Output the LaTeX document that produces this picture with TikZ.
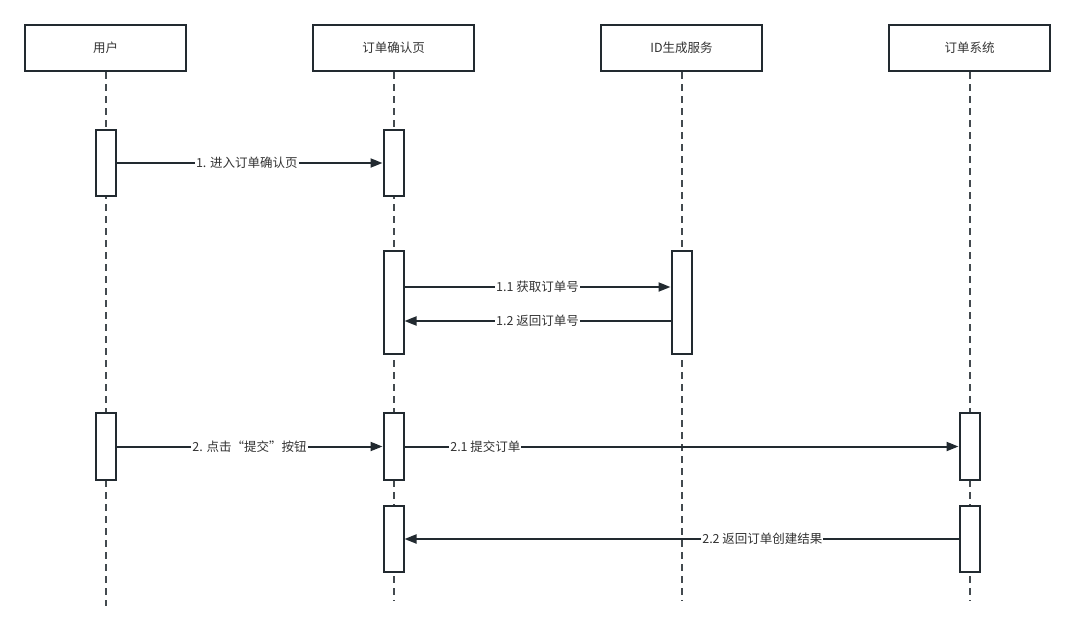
\documentclass[tikz,border=0pt]{standalone}
\usepackage{fontspec}
\setmainfont{Noto Sans CJK SC}
\usetikzlibrary{arrows.meta,positioning}
\definecolor{ink}{HTML}{222A30}
\definecolor{txt}{HTML}{333333}

\begin{document}
\begin{tikzpicture}[
  x=1pt,y=-1pt,
  actor/.style={draw=ink,line width=2pt,fill=white,minimum width=161pt,minimum height=46pt,inner sep=0pt,font=\fontsize{12.5}{14}\selectfont,text=txt},
  act/.style={draw=ink,line width=2pt,fill=white,minimum width=20pt,inner sep=0pt},
  life/.style={draw=ink!85,line width=2pt,dash pattern=on 7pt off 5pt},
  msg/.style={-{Triangle[length=12pt,width=9pt]},line width=2pt,draw=ink},
  lbl/.style={fill=white,inner sep=1pt,font=\fontsize{12.5}{14}\selectfont,text=txt}
]
\useasboundingbox (0,0) rectangle (1075,632);
% actors
\node[actor] (user) at (105.5,48) {用户};
\node[actor] (page) at (393.5,48) {订单确认页};
\node[actor] (idsvc) at (681.5,48) {ID生成服务};
\node[actor] (order) at (969.5,48) {订单系统};
% lifelines
\coordinate (userend) at (105.5,606);
\coordinate (pageend) at (393.5,601);
\coordinate (idsvcend) at (681.5,601);
\coordinate (orderend) at (969.5,601);
\draw[life] (user.south)--(userend);
\draw[life] (page.south)--(pageend);
\draw[life] (idsvc.south)--(idsvcend);
\draw[life] (order.south)--(orderend);
% activations
\node[act,minimum height=66pt] (ua1) at (105.5,163) {};
\node[act,minimum height=66pt] (pa1) at (393.5,163) {};
\node[act,minimum height=103pt] (pa2) at (393.5,302.5) {};
\node[act,minimum height=103pt] (ia2) at (681.5,302.5) {};
\node[act,minimum height=67pt] (ua3) at (105.5,446.5) {};
\node[act,minimum height=67pt] (pa3) at (393.5,446.5) {};
\node[act,minimum height=67pt] (oa3) at (969.5,446.5) {};
\node[act,minimum height=66pt] (pa4) at (393.5,539) {};
\node[act,minimum height=66pt] (oa4) at (969.5,539) {};
% messages
\draw[msg] (ua1.east)--(pa1.west) node[lbl,pos=0.49] {1. 进入订单确认页};
\draw[msg] ([yshift=15.5pt]pa2.east)--([yshift=15.5pt]ia2.west) node[lbl,pos=0.5] {1.1 获取订单号};
\draw[msg] ([yshift=-18.5pt]ia2.west)--([yshift=-18.5pt]pa2.east) node[lbl,pos=0.5] {1.2 返回订单号};
\draw[msg] (ua3.east)--(pa3.west) node[lbl,pos=0.5] {2. 点击“提交”按钮};
\draw[msg] (pa3.east)--(oa3.west) node[lbl,pos=0.146] {2.1 提交订单};
\draw[msg] (oa4.west)--(pa4.east) node[lbl,pos=0.354] {2.2 返回订单创建结果};
\end{tikzpicture}
\end{document}
